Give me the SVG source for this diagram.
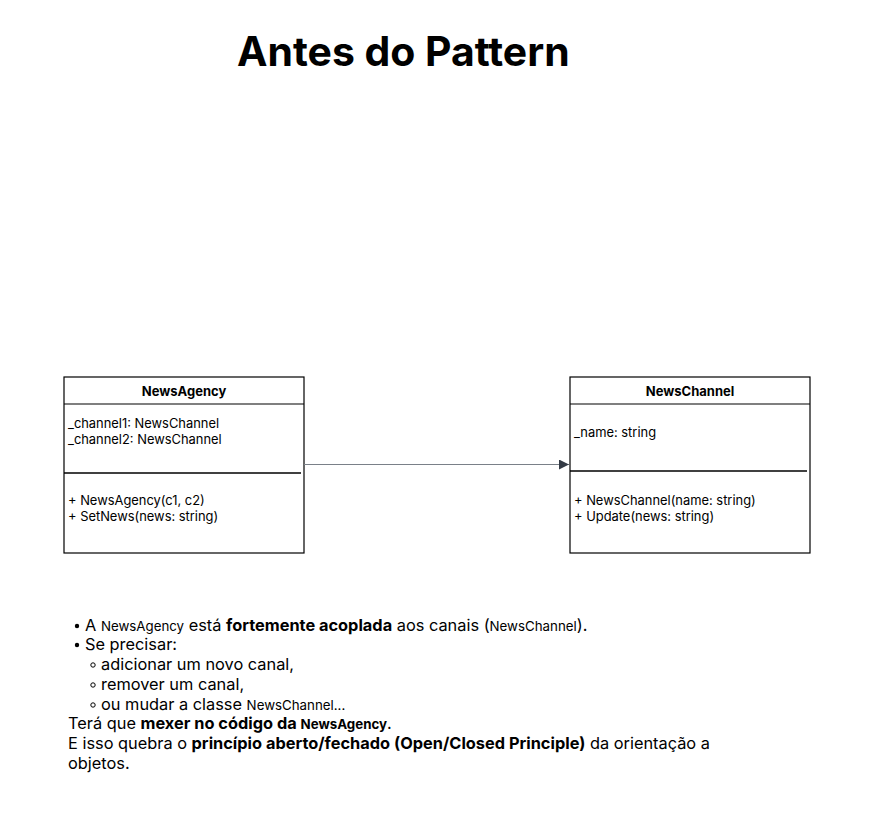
<svg xmlns="http://www.w3.org/2000/svg" width="870" height="834" viewBox="0 0 870 834">
<style>
text{font-family:Inter,"Noto Sans","Liberation Sans",sans-serif;fill:#000}
.box{fill:#fff;stroke:#000;stroke-width:1.2}
.ln{stroke:#000;stroke-width:1.2}
.sep{stroke:#000;stroke-width:1.6}
.hdr{font-size:13px;font-weight:bold;text-anchor:middle}
.m{font-size:12.9px}
.t{font-size:16.35px}
.c{font-size:13.3px}
.b{font-weight:bold}
</style>
<defs>
<marker id="arr" viewBox="0 0 10 10" refX="10" refY="5" markerWidth="12" markerHeight="10" markerUnits="userSpaceOnUse" orient="auto">
<path d="M0,0 L10,5 L0,10 z" fill="#333a45"/>
</marker>
</defs>
<rect width="870" height="834" fill="#fff"/>
<text x="237" y="66" font-size="40.9" font-weight="bold">Antes do Pattern</text>
<g id="NewsAgency">
<rect class="box" x="64" y="377" width="240" height="176"/>
<line class="ln" x1="64" y1="404" x2="304" y2="404"/>
<line class="sep" x1="64" y1="473" x2="301" y2="473"/>
<text class="hdr" x="184" y="395.5">NewsAgency</text>
<text class="m" x="68" y="428">_channel1: NewsChannel</text>
<text class="m" x="68" y="444">_channel2: NewsChannel</text>
<text class="m" x="68" y="504.5">+ NewsAgency(c1, c2)</text>
<text class="m" x="68" y="521">+ SetNews(news: string)</text>
</g>
<g id="NewsChannel">
<rect class="box" x="570" y="377" width="240" height="176"/>
<line class="ln" x1="570" y1="404" x2="810" y2="404"/>
<line class="sep" x1="570" y1="471" x2="807" y2="471"/>
<text class="hdr" x="690" y="395.5">NewsChannel</text>
<text class="m" x="574" y="436.5">_name: string</text>
<text class="m" x="574" y="504.5">+ NewsChannel(name: string)</text>
<text class="m" x="574" y="521">+ Update(news: string)</text>
</g>
<g id="connectors">
<line x1="304" y1="464.5" x2="569" y2="464.5" stroke="#7a8088" stroke-width="1.2" marker-end="url(#arr)"/>
</g>
<g id="notes">
<circle cx="77" cy="626" r="2.2" fill="#000"/>
<text class="t" x="85" y="631">A <tspan class="c">NewsAgency</tspan> está <tspan class="b">fortemente acoplada</tspan> aos canais (<tspan class="c">NewsChannel</tspan>).</text>
<circle cx="77" cy="645" r="2.2" fill="#000"/>
<text class="t" x="85" y="650">Se precisar:</text>
<circle cx="93" cy="665" r="2.2" fill="none" stroke="#000" stroke-width="1"/>
<text class="t" x="101" y="670">adicionar um novo canal,</text>
<circle cx="93" cy="685" r="2.2" fill="none" stroke="#000" stroke-width="1"/>
<text class="t" x="101" y="690">remover um canal,</text>
<circle cx="93" cy="705" r="2.2" fill="none" stroke="#000" stroke-width="1"/>
<text class="t" x="101" y="710">ou mudar a classe <tspan class="c">NewsChannel...</tspan></text>
<text class="t" x="68" y="729">Terá que <tspan class="b">mexer no código da </tspan><tspan class="c b">NewsAgency</tspan>.</text>
<text class="t" x="68" y="749">E isso quebra o <tspan class="b">princípio aberto/fechado (Open/Closed Principle)</tspan> da orientação a</text>
<text class="t" x="68" y="769">objetos.</text>
</g>
</svg>
